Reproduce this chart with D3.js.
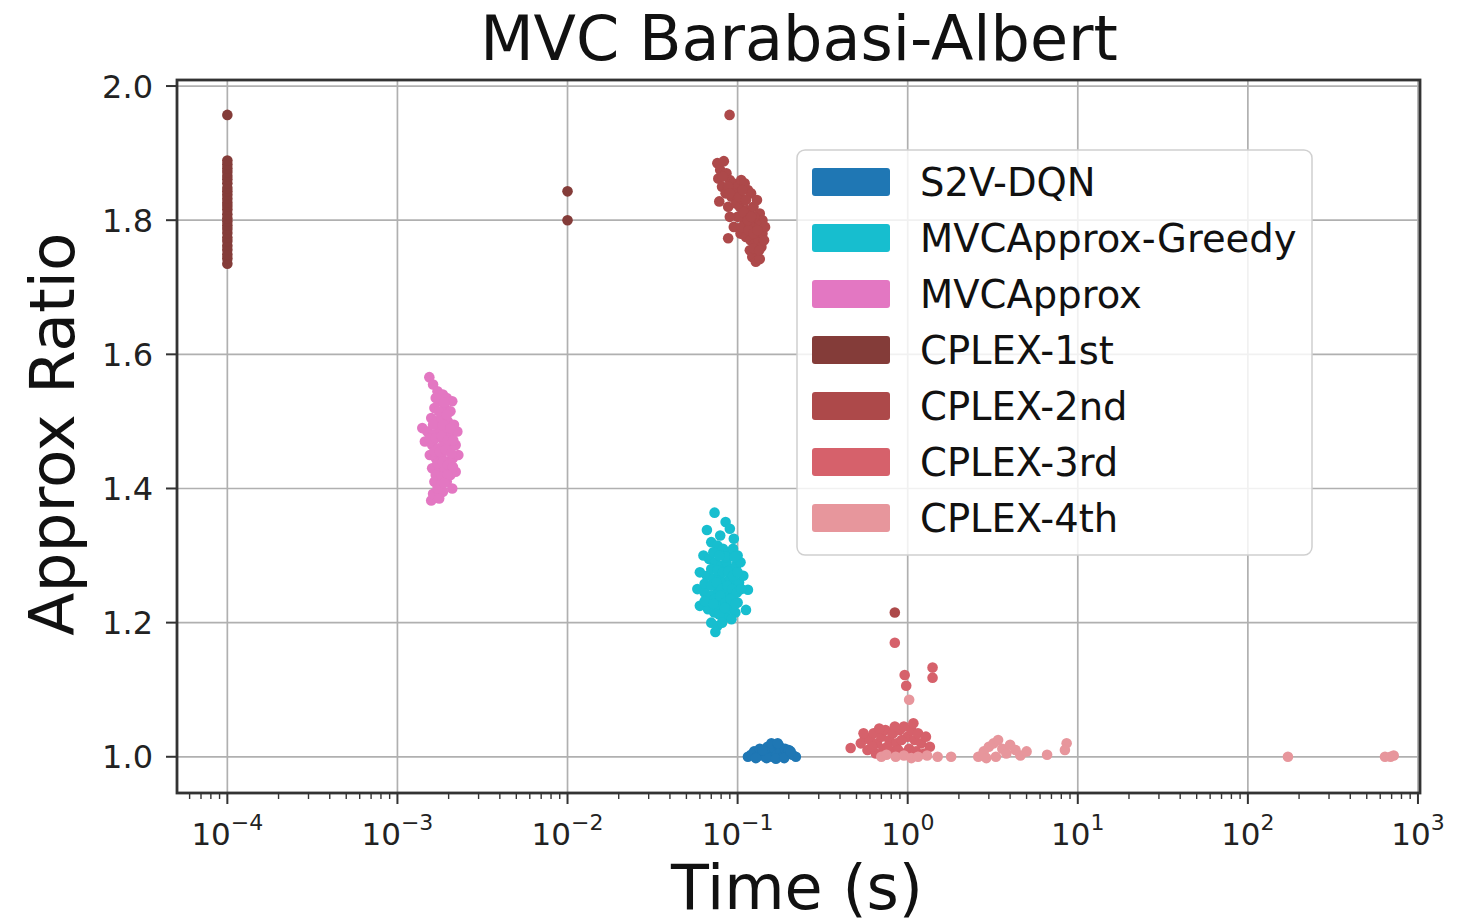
<!DOCTYPE html>
<html><head><meta charset="utf-8">
<script src="https://cdn.jsdelivr.net/npm/d3@7"></script>
<style>body{margin:0;background:#fff}svg{display:block}text{font-family:"DejaVu Sans",sans-serif}</style>
</head><body>
<svg id="c" width="1460" height="924"></svg>
<script>
const seriesNames = ["S2V-DQN","MVCApprox-Greedy","MVCApprox","CPLEX-1st","CPLEX-2nd","CPLEX-3rd","CPLEX-4th"];
const seriesColors = ["#1f77b4","#17becf","#e377c2","#843c39","#ad494a","#d6616b","#e7969c"];
const yTicks = [1.0,1.2,1.4,1.6,1.8,2.0];
const xTickExps = [-4,-3,-2,-1,0,1,2,3];

const s2vDqn = [[0.115,1.0],[0.12,1.003],[0.125,1.008],[0.13,1.0],[0.135,1.012],[0.14,1.004],[0.145,1.0],[0.15,1.015],[0.155,1.007],[0.16,1.0],[0.165,1.012],[0.17,1.003],[0.175,1.017],[0.18,1.008],[0.185,1.0],[0.19,1.012],[0.195,1.004],[0.2,1.01],[0.21,1.003],[0.22,1.0],[0.128,0.998],[0.148,0.998],[0.168,0.997],[0.188,0.998],[0.158,1.02],[0.172,1.02],[0.14,1.01],[0.205,1.008]];
const mvcGreedy = [[0.0732,1.364],[0.066,1.338],[0.085,1.35],[0.09,1.34],[0.095,1.325],[0.07,1.32],[0.076,1.315],[0.082,1.31],[0.088,1.305],[0.094,1.31],[0.1,1.3],[0.063,1.3],[0.068,1.295],[0.074,1.29],[0.08,1.285],[0.086,1.29],[0.092,1.28],[0.098,1.285],[0.104,1.29],[0.06,1.275],[0.066,1.27],[0.072,1.265],[0.078,1.27],[0.084,1.26],[0.09,1.265],[0.096,1.255],[0.102,1.26],[0.108,1.27],[0.058,1.25],[0.064,1.245],[0.07,1.24],[0.076,1.25],[0.082,1.235],[0.088,1.245],[0.094,1.24],[0.1,1.23],[0.115,1.249],[0.06,1.225],[0.067,1.22],[0.073,1.215],[0.079,1.225],[0.085,1.21],[0.091,1.22],[0.097,1.215],[0.112,1.219],[0.07,1.2],[0.076,1.195],[0.074,1.186],
 [0.079,1.33],[0.072,1.305],[0.085,1.298],[0.096,1.298],[0.078,1.3],[0.07,1.28],[0.076,1.278],[0.082,1.275],[0.088,1.276],[0.094,1.27],[0.1,1.275],[0.064,1.258],[0.07,1.255],[0.075,1.26],[0.081,1.25],[0.087,1.255],[0.093,1.25],[0.099,1.245],[0.105,1.25],[0.073,1.235],[0.079,1.24],[0.085,1.23],[0.091,1.235],[0.097,1.228],[0.064,1.232],[0.072,1.228],[0.078,1.212],[0.084,1.222],[0.092,1.205],[0.081,1.2]];
const mvcApprox = [[0.00154,1.566],[0.00162,1.555],[0.00172,1.545],[0.00185,1.54],[0.00195,1.535],[0.00178,1.53],[0.00165,1.52],[0.0019,1.52],[0.00205,1.515],[0.0021,1.53],[0.00158,1.505],[0.0017,1.5],[0.00182,1.505],[0.00198,1.5],[0.00215,1.495],[0.0014,1.49],[0.0015,1.485],[0.00163,1.48],[0.00176,1.49],[0.00192,1.485],[0.00208,1.48],[0.00225,1.485],[0.00145,1.47],[0.0016,1.465],[0.00174,1.46],[0.00188,1.47],[0.00203,1.46],[0.0022,1.465],[0.00155,1.45],[0.00168,1.445],[0.00182,1.45],[0.00197,1.44],[0.00212,1.445],[0.00228,1.45],[0.0016,1.43],[0.00175,1.425],[0.0019,1.43],[0.00205,1.42],[0.0022,1.425],[0.00165,1.41],[0.0018,1.405],[0.00195,1.41],[0.0021,1.4],[0.0017,1.39],[0.00185,1.395],[0.00158,1.382],[0.00162,1.392],
 [0.00168,1.535],[0.00188,1.528],[0.00175,1.515],[0.00195,1.51],[0.00162,1.495],[0.00185,1.495],[0.00205,1.49],[0.00155,1.475],[0.00168,1.475],[0.00182,1.478],[0.00198,1.472],[0.00213,1.472],[0.00165,1.455],[0.00178,1.455],[0.00192,1.458],[0.00208,1.452],[0.00172,1.438],[0.00185,1.44],[0.00198,1.435],[0.00212,1.432],[0.00168,1.42],[0.00183,1.418],[0.00197,1.42],[0.00172,1.4],[0.00188,1.408],[0.00176,1.385]];
const cplex1st = [[0.0001,1.957],[0.0001,1.735],[0.0001,1.743],[0.0001,1.749],[0.0001,1.756],[0.0001,1.762],[0.0001,1.769],[0.0001,1.774],[0.0001,1.781],[0.0001,1.787],[0.0001,1.792],[0.0001,1.798],[0.0001,1.803],[0.0001,1.809],[0.0001,1.816],[0.0001,1.821],[0.0001,1.826],[0.0001,1.832],[0.0001,1.838],[0.0001,1.843],[0.0001,1.848],[0.0001,1.855],[0.0001,1.861],[0.0001,1.866],[0.0001,1.872],[0.0001,1.877],[0.0001,1.883],[0.0001,1.889],[0.01,1.843],[0.01,1.80]];
const cplex2nd = [[0.0897,1.957],[0.076,1.885],[0.079,1.875],[0.083,1.888],[0.077,1.862],[0.081,1.85],[0.086,1.87],[0.09,1.86],[0.094,1.855],[0.085,1.84],[0.078,1.828],[0.088,1.82],[0.092,1.835],[0.097,1.845],[0.1,1.85],[0.105,1.86],[0.11,1.855],[0.115,1.845],[0.12,1.84],[0.098,1.825],[0.103,1.82],[0.108,1.83],[0.113,1.815],[0.118,1.81],[0.124,1.82],[0.13,1.83],[0.135,1.81],[0.14,1.8],[0.128,1.795],[0.122,1.79],[0.11,1.8],[0.1,1.805],[0.095,1.79],[0.104,1.78],[0.112,1.775],[0.119,1.77],[0.126,1.765],[0.133,1.77],[0.14,1.78],[0.145,1.79],[0.138,1.76],[0.13,1.75],[0.122,1.745],[0.128,1.738],[0.135,1.742],[0.088,1.773],[0.09,1.805],[0.106,1.79],[0.117,1.795],[0.125,1.805],[0.84,1.215],
 [0.082,1.865],[0.088,1.85],[0.095,1.84],[0.09,1.84],[0.102,1.835],[0.107,1.845],[0.112,1.83],[0.108,1.812],[0.115,1.8],[0.12,1.805],[0.116,1.785],[0.124,1.78],[0.131,1.785],[0.118,1.755],[0.124,1.758],[0.134,1.755],[0.143,1.77]];
const cplex3rd = [[0.462,1.013],[0.53,1.02],[0.56,1.03],[0.6,1.025],[0.63,1.035],[0.66,1.02],[0.7,1.03],[0.74,1.04],[0.78,1.025],[0.82,1.035],[0.86,1.02],[0.9,1.04],[0.95,1.045],[1.0,1.03],[1.05,1.04],[1.1,1.025],[1.15,1.035],[1.2,1.02],[1.28,1.03],[1.35,1.015],[0.58,1.01],[0.65,1.005],[0.72,1.012],[0.8,1.008],[0.88,1.01],[0.95,1.005],[1.02,1.012],[1.12,1.008],[1.25,1.005],[0.55,1.035],[0.68,1.042],[0.76,1.015],[0.92,1.025],[1.08,1.05],[0.62,1.015],[0.84,1.045],[0.84,1.17],[0.96,1.122],[0.98,1.106],[1.4,1.133],[1.4,1.118]];
const cplex4th = [[0.7,1.0],[0.75,1.003],[0.85,1.0],[0.95,1.002],[1.05,0.998],[1.15,1.0],[1.3,1.002],[1.5,1.0],[1.8,1.0],[1.02,1.085],[2.6,1.0],[2.8,1.008],[3.0,1.015],[3.2,1.02],[3.4,1.025],[3.6,1.012],[3.8,1.005],[4.0,1.018],[4.3,1.01],[4.6,1.002],[5.0,1.008],[3.3,1.0],[2.9,0.998],[6.6,1.003],[8.6,1.02],[8.4,1.01],[172,1.0],[640,1.0],[690,1.0],[720,1.002]];
const seriesData = [s2vDqn, mvcGreedy, mvcApprox, cplex1st, cplex2nd, cplex3rd, cplex4th];

const L=177,R=1420,T=80,B=793;
const svg=d3.select("#c");
const x=d3.scaleLog().domain([Math.pow(10,-4.296),Math.pow(10,3.012)]).range([L,R]);
const y=d3.scaleLinear().domain([0.946,2.009]).range([B,T]);

// grid
const g=svg.append("g");
g.selectAll("line.gx").data(xTickExps).join("line")
 .attr("x1",d=>x(Math.pow(10,d))).attr("x2",d=>x(Math.pow(10,d))).attr("y1",T).attr("y2",B)
 .attr("stroke","#b0b0b0").attr("stroke-width",1.7);
g.selectAll("line.gy").data(yTicks).join("line")
 .attr("y1",d=>y(d)).attr("y2",d=>y(d)).attr("x1",L).attr("x2",R)
 .attr("stroke","#b0b0b0").attr("stroke-width",1.7);

// points
seriesData.forEach((arr,i)=>{
  svg.append("g").selectAll("circle").data(arr).join("circle")
   .attr("cx",d=>x(d[0])).attr("cy",d=>y(d[1])).attr("r",5.3)
   .attr("fill",seriesColors[i]);
});

// frame
svg.append("rect").attr("x",L).attr("y",T).attr("width",R-L).attr("height",B-T)
 .attr("fill","none").attr("stroke","#333").attr("stroke-width",2.8);

// y axis ticks
const ya=svg.append("g");
yTicks.forEach(v=>{
  ya.append("line").attr("x1",L-11).attr("x2",L).attr("y1",y(v)).attr("y2",y(v)).attr("stroke","#333").attr("stroke-width",2);
  ya.append("text").attr("x",L-24).attr("y",y(v)).attr("dy","0.36em").attr("text-anchor","end")
   .attr("font-size",32).attr("fill","#222").text(v.toFixed(1));
});
// x axis ticks
const xa=svg.append("g");
xTickExps.forEach(e=>{
  const px=x(Math.pow(10,e));
  xa.append("line").attr("x1",px).attr("x2",px).attr("y1",B).attr("y2",B+11).attr("stroke","#333").attr("stroke-width",2);
  const t=xa.append("text").attr("x",px).attr("y",B+52).attr("text-anchor","middle").attr("fill","#222").attr("font-size",31);
  t.append("tspan").text("10");
  t.append("tspan").attr("dy",-15).attr("font-size",22).text(e<0?"\u2212"+(-e):String(e));
});
for(let e=-5;e<=3;e++){for(let m=2;m<=9;m++){const v=m*Math.pow(10,e);
  if(v>x.domain()[0]&&v<x.domain()[1]){const px=x(v);
   xa.append("line").attr("x1",px).attr("x2",px).attr("y1",B).attr("y2",B+6).attr("stroke","#333").attr("stroke-width",1.4);}}}

// titles
svg.append("text").attr("x",799).attr("y",60).attr("text-anchor","middle").attr("font-size",62).attr("fill","#111").text("MVC Barabasi-Albert");
svg.append("text").attr("x",797).attr("y",909).attr("text-anchor","middle").attr("font-size",62).attr("fill","#111").text("Time (s)");
svg.append("text").attr("transform","translate(74,434) rotate(-90)").attr("text-anchor","middle").attr("font-size",63).attr("fill","#111").text("Approx Ratio");

// legend
const lg=svg.append("g");
lg.append("rect").attr("x",797).attr("y",150).attr("width",515).attr("height",405).attr("rx",8)
 .attr("fill","#fff").attr("fill-opacity",0.82).attr("stroke","#d0d0d0").attr("stroke-width",1.5);
seriesNames.forEach((n,i)=>{
  const cy=182+i*56;
  lg.append("rect").attr("x",812).attr("y",cy-14).attr("width",78).attr("height",28).attr("rx",3).attr("fill",seriesColors[i]);
  lg.append("text").attr("x",920).attr("y",cy).attr("dy","0.36em").attr("font-size",38.5).attr("fill","#111").text(n);
});
</script>
</body></html>
